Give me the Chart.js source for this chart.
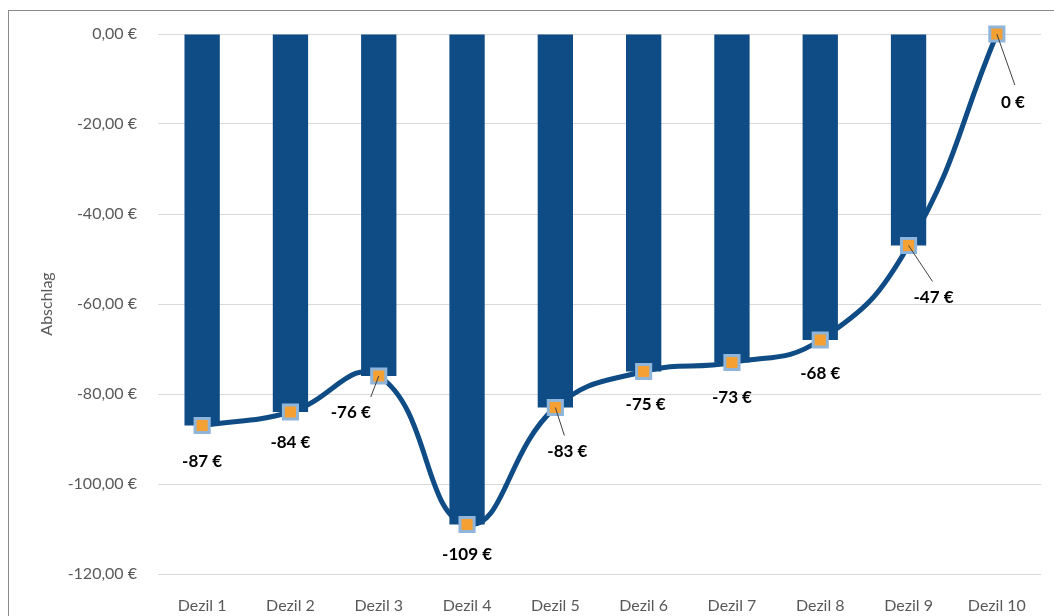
<!DOCTYPE html>
<html lang="de">
<head>
<meta charset="UTF-8">
<title>Abschlag nach Dezil</title>
<script src="https://cdn.jsdelivr.net/npm/chart.js@4"></script>
<style>
  html, body { margin: 0; padding: 0; background: #fff; overflow: hidden; }
  #wrap { position: relative; width: 1054px; height: 616px; }
</style>
</head>
<body>
<div id="wrap"><canvas id="chart" width="1054" height="616"></canvas></div>
<script>
// Data
const categories = ['Dezil 1', 'Dezil 2', 'Dezil 3', 'Dezil 4', 'Dezil 5', 'Dezil 6', 'Dezil 7', 'Dezil 8', 'Dezil 9', 'Dezil 10'];
const abschlag = [-87, -84, -76, -109, -83, -75, -73, -68, -47, 0];
const yTicks = [0, -20, -40, -60, -80, -100, -120];

const blue = '#0f4c85';
const fontFamily = 'Lato, "Open Sans", sans-serif';
const fmtAxis = v => v.toFixed(2).replace('.', ',') + ' €';
const fmtLabel = v => Math.round(v) + ' €';

// label placement relative to marker: dx, dy, leader line end (dx, dy) or null
const labelPlacement = [
    [0, 36, null], [0, 31, null], [-28, 37, [-8, 21]], [0, 30, null], [12, 44, [9, 28]],
    [2, 33, null], [0, 35, null], [0, 34, null], [25, 52, [24, 36]], [16, 69, [18, 51]]
];

// frame around the chart
const framePlugin = {
    id: 'frame',
    beforeDraw(chart) {
        const ctx = chart.ctx;
        ctx.save();
        ctx.strokeStyle = '#8a8a8a';
        ctx.lineWidth = 1;
        ctx.strokeRect(8.5, 10.5, 2000, 2000);
        ctx.restore();
    }
};

// data labels with leader lines
const labelPlugin = {
    id: 'valueLabels',
    afterDatasetsDraw(chart) {
        const ctx = chart.ctx;
        const meta = chart.getDatasetMeta(1);
        ctx.save();
        ctx.font = 'bold 17px ' + fontFamily;
        ctx.textAlign = 'center';
        ctx.textBaseline = 'middle';
        meta.data.forEach((pt, i) => {
            const [dx, dy, leader] = labelPlacement[i];
            if (leader) {
                ctx.strokeStyle = '#404040';
                ctx.lineWidth = 1;
                ctx.beginPath();
                ctx.moveTo(pt.x, pt.y);
                ctx.lineTo(pt.x + leader[0], pt.y + leader[1]);
                ctx.stroke();
            }
            ctx.fillStyle = '#000';
            ctx.fillText(fmtLabel(abschlag[i]), pt.x + dx, pt.y + dy);
        });
        ctx.restore();
    }
};

new Chart(document.getElementById('chart'), {
    data: {
        labels: categories,
        datasets: [
            {
                type: 'bar',
                label: 'Abschlag',
                data: abschlag,
                backgroundColor: blue,
                borderWidth: 0,
                categoryPercentage: 1,
                barPercentage: 0.4,
                order: 2
            },
            {
                type: 'line',
                label: 'Abschlag Linie',
                data: abschlag,
                borderColor: blue,
                borderWidth: 5,
                tension: 0.45,
                clip: false,
                pointStyle: 'rect',
                pointRadius: 10,
                pointBackgroundColor: '#f5a033',
                pointBorderColor: '#8fb5da',
                pointBorderWidth: 3,
                order: 1
            }
        ]
    },
    options: {
        responsive: false,
        animation: false,
        layout: { padding: { top: 34, right: 2, bottom: 0, left: 0 } },
        plugins: {
            legend: { display: false },
            tooltip: { enabled: false }
        },
        scales: {
            x: {
                grid: { display: false },
                border: { display: false },
                ticks: {
                    color: '#595959',
                    font: { family: fontFamily, size: 16 },
                    padding: 14,
                    maxRotation: 0
                },
                afterFit(scale) { scale.height = 42; }
            },
            y: {
                min: -120,
                max: 0,
                afterBuildTicks(scale) { scale.ticks = yTicks.map(v => ({ value: v })); },
                grid: { color: '#d9d9d9', lineWidth: 1, drawTicks: false },
                border: { display: false },
                ticks: {
                    color: '#595959',
                    font: { family: fontFamily, size: 16 },
                    padding: 21,
                    callback: v => fmtAxis(v)
                },
                title: {
                    display: true,
                    text: 'Abschlag',
                    color: '#595959',
                    font: { family: fontFamily, size: 16 },
                    padding: { top: 37, bottom: 0 }
                },
                afterFit(scale) { scale.width = 158; }
            }
        }
    },
    plugins: [framePlugin, labelPlugin]
});
</script>
</body>
</html>
